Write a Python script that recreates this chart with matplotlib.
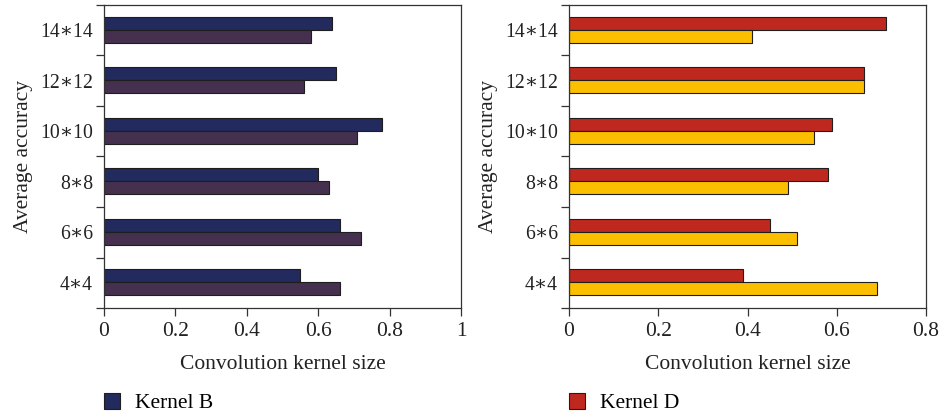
import matplotlib
matplotlib.use("Agg")
import matplotlib.pyplot as plt
import numpy as np
from matplotlib.patches import Patch

plt.rcParams['font.family'] = ['Liberation Serif', 'DejaVu Serif']

# kernel sizes (bottom to top)
sizes = ['4\u22174', '6\u22176', '8\u22178', '10\u221710', '12\u221712', '14\u221714']

# left panel
kernel_b = [0.55, 0.66, 0.60, 0.78, 0.65, 0.64]
kernel_a = [0.66, 0.72, 0.63, 0.71, 0.56, 0.58]

# right panel
kernel_d = [0.39, 0.45, 0.58, 0.59, 0.66, 0.71]
kernel_c = [0.69, 0.51, 0.49, 0.55, 0.66, 0.41]

left_ticks = [0, 0.2, 0.4, 0.6, 0.8, 1]
left_ticklabels = ['0', '0.2', '0.4', '0.6', '0.8', '1']
right_ticks = [0, 0.2, 0.4, 0.6, 0.8]
right_ticklabels = ['0', '0.2', '0.4', '0.6', '0.8']

navy = '#232a5e'
plum = '#45304f'
red = '#bf281e'
gold = '#fbbf00'
edge = '#1e1e1e'


def panel(ax, top_vals, bot_vals, top_col, bot_col, xmax, ticks, ticklabels):
    y = np.arange(len(sizes))
    h = 0.26
    ax.barh(y + h / 2 + 0.01, top_vals, height=h, color=top_col,
            edgecolor=edge, linewidth=0.8)
    ax.barh(y - h / 2 + 0.01, bot_vals, height=h, color=bot_col,
            edgecolor=edge, linewidth=0.8)
    ax.set_xlim(0, xmax)
    ax.set_ylim(-0.5, len(sizes) - 0.5)
    ax.set_xticks(ticks)
    ax.set_xticklabels(ticklabels)
    # ticks between categories, labels centred on them
    ax.set_yticks(np.arange(-0.5, len(sizes), 1.0))
    ax.set_yticklabels([])
    ax.set_yticks(y, minor=True)
    ax.set_yticklabels(sizes, minor=True)
    ax.tick_params(axis='y', which='minor', length=0, pad=8, labelsize=14.2)
    ax.tick_params(axis='y', which='major', length=6, width=0.9,
                   direction='out', color='#333333')
    ax.tick_params(axis='x', length=6, width=0.9, direction='out',
                   color='#333333', labelsize=15.5, pad=4)
    for s in ax.spines.values():
        s.set_linewidth(0.9)
        s.set_color('#333333')
    ax.set_xlabel('Convolution kernel size', fontsize=15.5, color='#222222',
                  labelpad=10)
    ax.set_ylabel('Average accuracy', fontsize=15.5, color='#222222',
                  labelpad=5)
    for lbl in ax.get_xticklabels() + ax.get_yticklabels(minor=True):
        lbl.set_color('#222222')


fig = plt.figure(figsize=(9.41, 4.19), dpi=100)
ax1 = fig.add_axes([104 / 941, 111 / 419, 357 / 941, 303 / 419])
ax2 = fig.add_axes([569 / 941, 111 / 419, 357 / 941, 303 / 419])

panel(ax1, kernel_b, kernel_a, navy, plum, 1.0, left_ticks, left_ticklabels)
panel(ax2, kernel_d, kernel_c, red, gold, 0.8, right_ticks, right_ticklabels)

fig.legend(handles=[Patch(facecolor=navy, edgecolor=edge, linewidth=0.8,
                          label='Kernel B')],
           loc='center left', bbox_to_anchor=(104 / 941, 1 - 403 / 419),
           frameon=False, fontsize=15.5, handlelength=0.75, handleheight=0.75,
           handletextpad=0.7, borderaxespad=0, borderpad=0)
fig.legend(handles=[Patch(facecolor=red, edgecolor=edge, linewidth=0.8,
                          label='Kernel D')],
           loc='center left', bbox_to_anchor=(569 / 941, 1 - 403 / 419),
           frameon=False, fontsize=15.5, handlelength=0.75, handleheight=0.75,
           handletextpad=0.7, borderaxespad=0, borderpad=0)

fig.savefig('out.png', dpi=100)
